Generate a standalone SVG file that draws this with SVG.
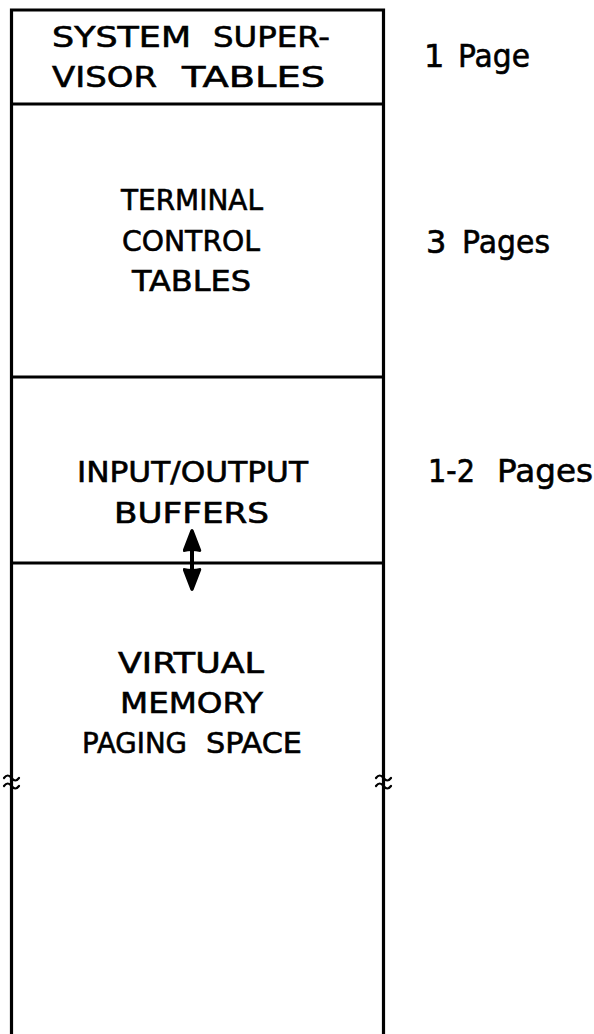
<svg xmlns="http://www.w3.org/2000/svg" width="594" height="1034" viewBox="0 0 594 1034">
  <style>
    .wall { stroke: #000; stroke-width: 3.2; fill: none; }
    .brk { stroke: #000; stroke-width: 2.2; fill: none; stroke-linecap: round; }
    .lbl { font-family: "DejaVu Sans", "Liberation Sans", sans-serif; font-size: 28px; fill: #000; stroke: #000; stroke-width: 0.6; }
    .side { font-family: "DejaVu Sans", "Liberation Sans", sans-serif; font-size: 32px; fill: #000; stroke: #000; stroke-width: 0.6; }
  </style>
  <defs>
    <marker id="head" viewBox="0 0 24 19" refX="21" refY="9.5" markerWidth="24" markerHeight="19" markerUnits="userSpaceOnUse" orient="auto-start-reverse">
      <path d="M0,1.5 Q0,0 2,0.3 L22,8 Q24,9.5 22,11 L2,18.7 Q0,19 0,17.5 Q2,9.5 0,1.5 Z" fill="#000"/>
    </marker>
  </defs>
  <rect width="594" height="1034" fill="#fff"/>

  <!-- column walls and dividers -->
  <g id="frame">
    <path class="wall" d="M11.5,1034 V10 H383.5 V1034"/>
    <path class="wall" d="M11.5,104 H383.5"/>
    <path class="wall" d="M11.5,377 H383.5"/>
    <path class="wall" d="M11.5,563 H383.5"/>
    <!-- break marks on the walls -->
    <path class="brk" d="M4,778 q3.7,-5 7.5,0 t7.5,0 M4,786 q3.7,-5 7.5,0 t7.5,0"/>
    <path class="brk" d="M376,778 q3.7,-5 7.5,0 t7.5,0 M376,786 q3.7,-5 7.5,0 t7.5,0"/>
  </g>

  <g id="system-supervisor-tables">
    <text class="lbl" y="47"><tspan x="52" textLength="139" lengthAdjust="spacingAndGlyphs">SYSTEM</tspan> <tspan x="213" textLength="117" lengthAdjust="spacingAndGlyphs">SUPER-</tspan></text>
    <text class="lbl" y="87"><tspan x="52" textLength="105" lengthAdjust="spacingAndGlyphs">VISOR</tspan> <tspan x="182" textLength="143" lengthAdjust="spacingAndGlyphs">TABLES</tspan></text>
    <text class="side" y="67"><tspan x="424">1</tspan> <tspan x="458" textLength="72" lengthAdjust="spacingAndGlyphs">Page</tspan></text>
  </g>

  <g id="terminal-control-tables">
    <text class="lbl" x="121" y="210" textLength="142" lengthAdjust="spacingAndGlyphs">TERMINAL</text>
    <text class="lbl" x="122" y="251" textLength="138" lengthAdjust="spacingAndGlyphs">CONTROL</text>
    <text class="lbl" x="132" y="291" textLength="119" lengthAdjust="spacingAndGlyphs">TABLES</text>
    <text class="side" y="253"><tspan x="426">3</tspan> <tspan x="462" textLength="88" lengthAdjust="spacingAndGlyphs">Pages</tspan></text>
  </g>

  <g id="io-buffers">
    <text class="lbl" x="77" y="482" textLength="231" lengthAdjust="spacingAndGlyphs">INPUT/OUTPUT</text>
    <text class="lbl" x="114" y="523" textLength="155" lengthAdjust="spacingAndGlyphs">BUFFERS</text>
    <text class="side" y="482"><tspan x="428" textLength="47" lengthAdjust="spacingAndGlyphs">1-2</tspan> <tspan x="497" textLength="96" lengthAdjust="spacingAndGlyphs">Pages</tspan></text>
  </g>

  <g id="virtual-memory-paging-space">
    <text class="lbl" x="118" y="673" textLength="146" lengthAdjust="spacingAndGlyphs">VIRTUAL</text>
    <text class="lbl" x="120" y="713" textLength="143" lengthAdjust="spacingAndGlyphs">MEMORY</text>
    <text class="lbl" y="753"><tspan x="82" textLength="105" lengthAdjust="spacingAndGlyphs">PAGING</tspan> <tspan x="206" textLength="96" lengthAdjust="spacingAndGlyphs">SPACE</tspan></text>
  </g>

  <!-- transfer between buffers and paging space -->
  <g id="connectors">
    <line x1="192" y1="531" x2="192" y2="589" stroke="#000" stroke-width="4" marker-start="url(#head)" marker-end="url(#head)"/>
  </g>
</svg>
